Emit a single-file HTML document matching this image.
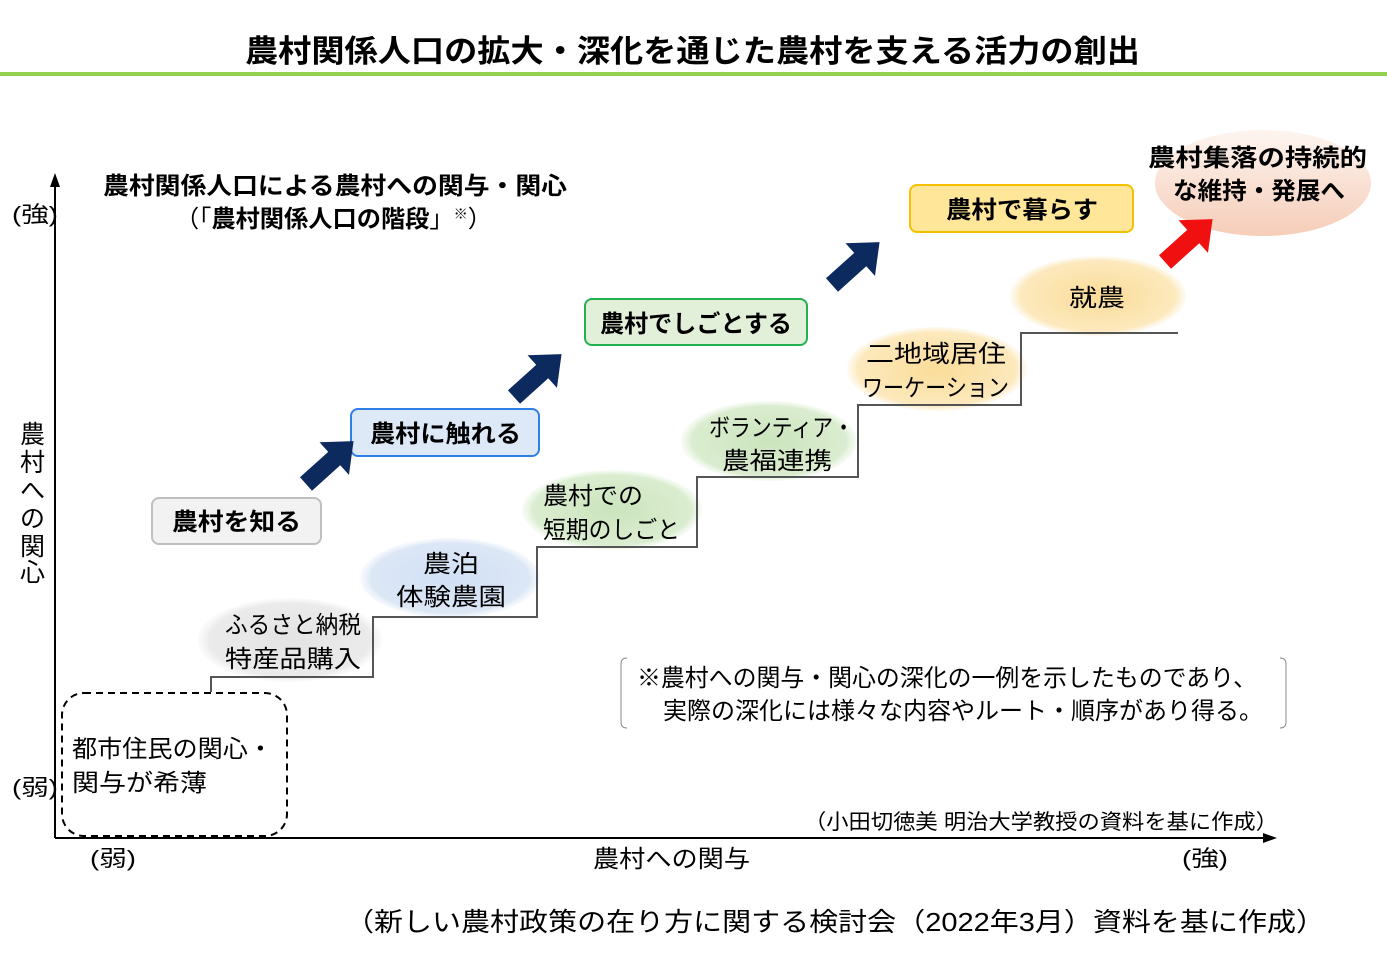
<!DOCTYPE html>
<html><head><meta charset="utf-8"><style>
html,body{margin:0;padding:0;background:#fff;}
svg{display:block;}
text{font-family:"Liberation Sans","Noto Sans CJK JP",sans-serif;fill:#000;}
.b{font-weight:bold;}
</style></head><body>
<svg width="1387" height="960" viewBox="0 0 1387 960" xmlns="http://www.w3.org/2000/svg">
<defs>
<radialGradient id="gG" cx="50%" cy="50%" r="55%"><stop offset="0" stop-color="#e3e3e3"/><stop offset="0.8" stop-color="#ebebeb"/><stop offset="1" stop-color="#fff" stop-opacity="0"/></radialGradient>
<radialGradient id="gB" cx="50%" cy="50%" r="55%"><stop offset="0" stop-color="#d0e0f5"/><stop offset="0.8" stop-color="#dce7f6"/><stop offset="1" stop-color="#fff" stop-opacity="0"/></radialGradient>
<radialGradient id="gN" cx="50%" cy="50%" r="55%"><stop offset="0" stop-color="#cbe4bd"/><stop offset="0.8" stop-color="#dbedd0"/><stop offset="1" stop-color="#fff" stop-opacity="0"/></radialGradient>
<radialGradient id="gY" cx="50%" cy="50%" r="55%"><stop offset="0" stop-color="#fbdc98"/><stop offset="0.8" stop-color="#fce9bd"/><stop offset="1" stop-color="#fff" stop-opacity="0"/></radialGradient>
<linearGradient id="gP" x1="0" y1="0" x2="0" y2="1"><stop offset="0" stop-color="#fdf5f0"/><stop offset="1" stop-color="#f6cdb8"/></linearGradient>
</defs>
<text x="245" y="62" class="b" font-size="31" textLength="895" lengthAdjust="spacingAndGlyphs">農村関係人口の拡大・深化を通じた農村を支える活力の創出</text>
<rect x="0" y="72" width="1387" height="4" fill="#92d050"/>

<text x="103" y="194" class="b" font-size="24" textLength="464" lengthAdjust="spacingAndGlyphs">農村関係人口による農村への関与・関心</text>
<text x="175" y="227" font-size="24" textLength="317" lengthAdjust="spacingAndGlyphs">（「<tspan class="b">農村関係人口の階段</tspan>」<tspan font-size="14" dy="-8">※</tspan><tspan dy="8">）</tspan></text>

<line x1="55" y1="838" x2="55" y2="185" stroke="#000" stroke-width="2"/>
<polygon points="55,173 50,187 60,187" fill="#000"/>
<line x1="55" y1="838" x2="1266" y2="838" stroke="#000" stroke-width="2"/>
<polygon points="1277,838 1263,833 1263,843" fill="#000"/>
<text x="12" y="222" font-size="22" textLength="46" lengthAdjust="spacingAndGlyphs">(強)</text>
<text x="12" y="795" font-size="22" textLength="46" lengthAdjust="spacingAndGlyphs">(弱)</text>
<text x="90" y="866" font-size="22" textLength="46" lengthAdjust="spacingAndGlyphs">(弱)</text>
<text x="1182" y="866" font-size="22" textLength="46" lengthAdjust="spacingAndGlyphs">(強)</text>
<text x="593" y="867" font-size="24" textLength="157" lengthAdjust="spacingAndGlyphs">農村への関与</text>
<g font-size="25">
<text x="20" y="443">農</text><text x="20" y="471">村</text><text x="20" y="499">へ</text><text x="20" y="527">の</text><text x="20" y="555">関</text><text x="20" y="581">心</text>
</g>

<ellipse cx="290" cy="640" rx="92" ry="42" fill="url(#gG)"/>
<ellipse cx="450" cy="578" rx="90" ry="40" fill="url(#gB)"/>
<ellipse cx="612" cy="510" rx="90" ry="40" fill="url(#gN)"/>
<ellipse cx="769" cy="441" rx="88" ry="40" fill="url(#gN)"/>
<ellipse cx="937" cy="369" rx="90" ry="42" fill="url(#gY)"/>
<ellipse cx="1098" cy="296" rx="88" ry="40" fill="url(#gY)"/>
<ellipse cx="1263" cy="183" rx="108" ry="53" fill="url(#gP)"/>

<polyline points="211,692 211,677 373,677 373,617 537,617 537,547 697,547 697,477 858,477 858,405 1021,405 1021,333 1178,333" fill="none" stroke="#555" stroke-width="2"/>

<g font-size="24">
<text x="225" y="633" textLength="136" lengthAdjust="spacingAndGlyphs">ふるさと納税</text>
<text x="225" y="667" textLength="136" lengthAdjust="spacingAndGlyphs">特産品購入</text>
<text x="423" y="572" textLength="56" lengthAdjust="spacingAndGlyphs">農泊</text>
<text x="396" y="605" textLength="110" lengthAdjust="spacingAndGlyphs">体験農園</text>
<text x="543" y="504" textLength="100" lengthAdjust="spacingAndGlyphs">農村での</text>
<text x="543" y="538" textLength="137" lengthAdjust="spacingAndGlyphs">短期のしごと</text>
<text x="709" y="436" textLength="145" lengthAdjust="spacingAndGlyphs">ボランティア・</text>
<text x="722" y="469" textLength="110" lengthAdjust="spacingAndGlyphs">農福連携</text>
<text x="866" y="362" textLength="140" lengthAdjust="spacingAndGlyphs">二地域居住</text>
<text x="862" y="396" textLength="147" lengthAdjust="spacingAndGlyphs">ワーケーション</text>
<text x="1069" y="306" textLength="56" lengthAdjust="spacingAndGlyphs">就農</text>
</g>
<text x="1148" y="166" class="b" font-size="24" textLength="219" lengthAdjust="spacingAndGlyphs">農村集落の持続的</text>
<text x="1173" y="199" class="b" font-size="24" textLength="172" lengthAdjust="spacingAndGlyphs">な維持・発展へ</text>

<rect x="152" y="498" width="169" height="46" rx="7" fill="#f2f2f2" stroke="#bfbfbf" stroke-width="2"/>
<text x="172" y="530" class="b" font-size="24" textLength="129" lengthAdjust="spacingAndGlyphs">農村を知る</text>
<rect x="351" y="409" width="188" height="47" rx="7" fill="#dde9f7" stroke="#2f80e6" stroke-width="2"/>
<text x="370" y="442" class="b" font-size="24" textLength="151" lengthAdjust="spacingAndGlyphs">農村に触れる</text>
<rect x="585" y="299" width="222" height="46" rx="7" fill="#e2f0d9" stroke="#22b050" stroke-width="2"/>
<text x="600" y="332" class="b" font-size="24" textLength="192" lengthAdjust="spacingAndGlyphs">農村でしごとする</text>
<rect x="910" y="185" width="223" height="47" rx="7" fill="#ffe699" stroke="#f5c000" stroke-width="2"/>
<text x="946" y="218" class="b" font-size="24" textLength="152" lengthAdjust="spacingAndGlyphs">農村で暮らす</text>

<g fill="#0d2a5e">
<polygon points="0,-9 38,-9 38,-22 64,0 38,22 38,9 0,9" transform="translate(306,484) rotate(-42)"/>
<polygon points="0,-9 38,-9 38,-22 64,0 38,22 38,9 0,9" transform="translate(514,397) rotate(-42)"/>
<polygon points="0,-9 38,-9 38,-22 64,0 38,22 38,9 0,9" transform="translate(832,285) rotate(-42)"/>
</g>
<polygon points="0,-9 38,-9 38,-22 64,0 38,22 38,9 0,9" transform="translate(1165,262) rotate(-42)" fill="#f01010"/>

<rect x="62" y="693" width="225" height="143" rx="22" fill="none" stroke="#000" stroke-width="2" stroke-dasharray="7,5"/>
<text x="72" y="757" font-size="24" textLength="201" lengthAdjust="spacingAndGlyphs">都市住民の関心・</text>
<text x="72" y="791" font-size="24" textLength="135" lengthAdjust="spacingAndGlyphs">関与が希薄</text>

<path d="M627,658 Q621,658 621,664 L621,722 Q621,728 627,728" fill="none" stroke="#888" stroke-width="1"/>
<path d="M1280,658 Q1286,658 1286,664 L1286,722 Q1286,728 1280,728" fill="none" stroke="#888" stroke-width="1"/>
<text x="637" y="686" font-size="24" textLength="620" lengthAdjust="spacingAndGlyphs">※農村への関与・関心の深化の一例を示したものであり、</text>
<text x="663" y="719" font-size="24" textLength="600" lengthAdjust="spacingAndGlyphs">実際の深化には様々な内容やルート・順序があり得る。</text>

<text x="804" y="829" font-size="21" textLength="474" lengthAdjust="spacingAndGlyphs">（小田切徳美 明治大学教授の資料を基に作成）</text>
<text x="345" y="931" font-size="26" textLength="980" lengthAdjust="spacingAndGlyphs">（新しい農村政策の在り方に関する検討会（2022年3月）資料を基に作成）</text>
</svg>
</body></html>
